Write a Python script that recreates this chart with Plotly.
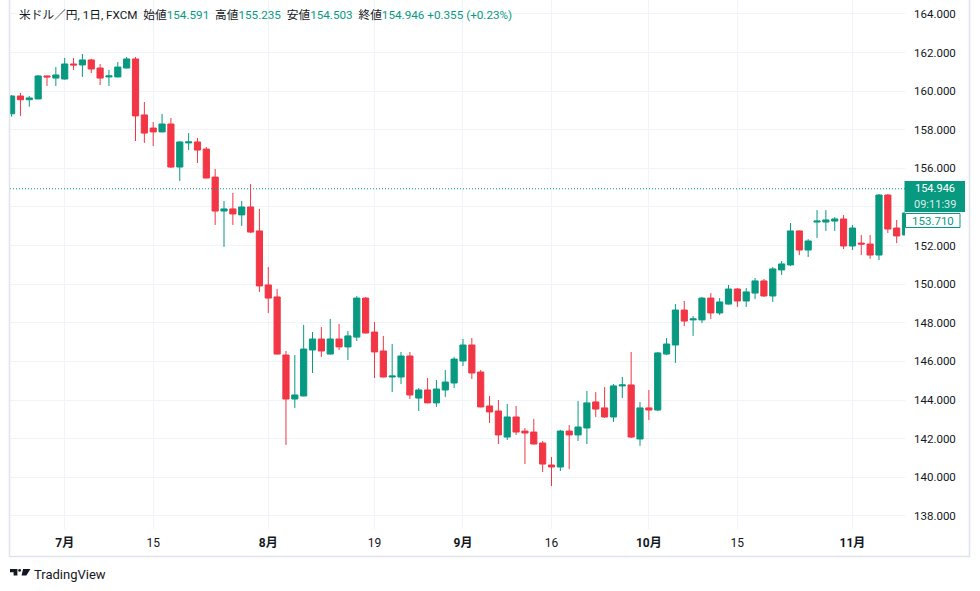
import pandas as pd
import plotly.graph_objects as go

# ---- data (USD/JPY daily, FXCM) ----
dates = [d.strftime("%Y-%m-%d") for d in pd.bdate_range("2024-06-21", "2024-11-11")]

open_ = [158.83, 159.75, 159.56, 159.60, 160.79, 160.68, 160.63, 161.41, 161.36, 161.62,
         161.20, 160.74, 160.74, 161.20, 161.67, 158.77, 158.09, 157.89, 158.30, 156.07,
         157.32, 157.37, 157.00, 155.55, 153.79, 153.90, 153.59, 154.00, 152.76, 149.96,
         149.34, 146.33, 144.05, 144.21, 146.59, 147.16, 146.38, 147.16, 146.75, 147.26,
         149.28, 147.52, 146.54, 145.19, 145.19, 146.28, 144.10, 144.52, 143.85, 144.52,
         144.88, 146.02, 146.85, 145.45, 143.69, 143.43, 142.08, 143.12, 142.39, 142.34,
         141.77, 140.63, 140.53, 142.39, 142.19, 142.55, 143.90, 143.59, 143.12, 144.73,
         144.78, 141.98, 143.59, 143.48, 146.38, 146.85, 148.66, 148.15, 148.15, 149.28,
         148.51, 148.97, 149.75, 149.13, 149.54, 150.17, 149.39, 150.74, 151.00, 152.76,
         151.77, 153.22, 153.22, 153.27, 153.38, 151.98, 152.13, 152.08, 151.51, 154.62,
         152.91, 152.55]
high = [159.80, 159.91, 159.75, 160.84, 160.80, 161.25, 161.72, 161.72, 161.93, 161.67,
        161.41, 161.10, 161.51, 161.77, 161.77, 159.44, 158.40, 158.82, 158.61, 157.40,
        157.83, 157.58, 157.11, 155.97, 154.31, 154.73, 154.31, 155.19, 153.90, 150.89,
        149.75, 146.54, 146.33, 147.89, 147.52, 147.78, 148.20, 147.94, 147.58, 149.39,
        149.34, 148.04, 147.32, 146.90, 146.49, 146.49, 144.62, 145.14, 145.04, 145.55,
        146.23, 147.16, 147.21, 145.55, 144.21, 144.00, 143.79, 143.69, 142.55, 143.02,
        141.88, 141.05, 142.45, 142.70, 143.95, 144.47, 144.41, 144.67, 144.83, 145.19,
        146.49, 143.90, 144.52, 146.49, 147.21, 148.97, 149.13, 148.35, 149.34, 149.54,
        149.28, 149.96, 149.80, 149.80, 150.32, 150.27, 150.89, 151.20, 153.17, 152.78,
        152.34, 153.84, 153.84, 153.48, 153.58, 153.07, 152.55, 152.55, 154.67, 154.67,
        153.33, 153.90]
low = [158.68, 158.72, 159.20, 159.58, 160.27, 160.27, 160.60, 161.10, 160.74, 160.94,
       160.32, 160.27, 160.72, 161.18, 157.42, 157.32, 157.16, 157.87, 156.02, 155.35,
       156.95, 156.28, 155.48, 153.07, 151.93, 153.07, 153.02, 152.65, 149.60, 148.51,
       146.36, 141.67, 143.59, 144.19, 145.40, 146.23, 146.36, 146.59, 146.07, 147.06,
       147.45, 145.14, 145.17, 144.41, 144.83, 144.05, 143.43, 143.83, 143.64, 144.16,
       144.62, 145.76, 145.09, 143.62, 142.81, 141.72, 141.93, 142.19, 140.68, 141.70,
       140.27, 139.54, 140.32, 140.42, 141.88, 141.72, 143.12, 143.07, 142.86, 144.10,
       142.03, 141.62, 142.96, 143.43, 146.33, 145.92, 147.83, 147.32, 147.99, 148.20,
       148.40, 148.95, 148.82, 148.82, 149.23, 149.34, 149.08, 150.48, 150.94, 151.51,
       151.41, 152.39, 152.76, 152.76, 151.82, 151.77, 151.51, 151.31, 151.25, 152.65,
       152.13, 152.40]
close = [159.75, 159.56, 159.65, 160.79, 160.74, 160.84, 161.41, 161.36, 161.62, 161.15,
         160.68, 160.79, 161.25, 161.67, 158.72, 157.83, 157.89, 158.30, 156.07, 157.37,
         157.37, 156.95, 155.50, 153.79, 153.90, 153.64, 154.00, 152.70, 149.91, 149.28,
         146.38, 144.05, 144.26, 146.64, 147.16, 146.54, 147.16, 146.75, 147.32, 149.28,
         147.47, 146.49, 145.19, 145.24, 146.28, 144.26, 144.52, 143.85, 144.57, 144.93,
         146.12, 146.85, 145.40, 143.64, 143.38, 142.19, 143.12, 142.34, 142.29, 141.72,
         140.68, 140.53, 142.39, 142.19, 142.60, 143.85, 143.53, 143.12, 144.73, 144.78,
         142.08, 143.59, 143.48, 146.44, 146.90, 148.66, 148.09, 148.20, 149.28, 148.51,
         149.08, 149.75, 149.13, 149.60, 150.17, 149.39, 150.79, 151.05, 152.76, 151.77,
         152.24, 153.27, 153.33, 153.38, 151.98, 152.91, 152.08, 151.51, 154.62, 152.86,
         152.50, 153.69]

tick_dates = ["2024-07-01", "2024-07-15", "2024-08-01", "2024-08-19", "2024-09-02",
              "2024-09-16", "2024-10-01", "2024-10-15", "2024-11-01"]
tick_text = ["<b>7月</b>", "15", "<b>8月</b>", "19", "<b>9月</b>", "16", "<b>10月</b>", "15", "<b>11月</b>"]
price_ticks = [138, 140, 142, 144, 146, 148, 150, 152, 154, 156, 158, 160, 162, 164]
# the 154.000 label sits under the last-price tag in the reference
price_tick_text = ["" if v == 154 else f"{v:.3f}" for v in price_ticks]

last_price = 154.946
countdown = "09:11:39"
prev_close_label = 153.710

UP = "#089981"
DOWN = "#F23645"
TXT = "#131722"
GRID = "#f0f3fa"

# ---- geometry helpers (pixel -> paper) ----
PL, PR, PT, PB = 10, 905, 0, 529
W, H = 980, 591


def px(x):
    return (x - PL) / (PR - PL)


def py(y):
    return (PB - y) / (PB - PT)


fig = go.Figure(go.Candlestick(
    x=dates, open=open_, high=high, low=low, close=close,
    increasing=dict(line=dict(color=UP, width=1), fillcolor=UP),
    decreasing=dict(line=dict(color=DOWN, width=1), fillcolor=DOWN),
    whiskerwidth=0, hoverinfo="skip",
))

shapes = []
# dotted last-price line
shapes.append(dict(type="line", xref="paper", yref="y", x0=0, x1=1,
                   y0=last_price, y1=last_price,
                   line=dict(color=UP, width=1, dash="1px,2px")))
# widget border
shapes.append(dict(type="rect", xref="paper", yref="paper",
                   x0=px(9.5), x1=px(969.5), y0=py(556.5), y1=py(-3),
                   line=dict(color="#e0e3eb", width=1.5), layer="above"))
# green last price box
shapes.append(dict(type="rect", xref="paper", yref="paper",
                   x0=px(904.5), x1=px(965), y0=py(212), y1=py(181),
                   line=dict(width=0), fillcolor=UP, layer="above"))
# prev close box
shapes.append(dict(type="rect", xref="paper", yref="paper",
                   x0=px(905.5), x1=px(960), y0=py(227.5), y1=py(213.5),
                   line=dict(color=UP, width=1), fillcolor="white", layer="above"))


# TradingView logo
def path(pts):
    return "M " + " L ".join(f"{px(a):.5f},{py(b):.5f}" for a, b in pts) + " Z"


shapes.append(dict(type="path", xref="paper", yref="paper",
                   path=path([(10, 569.0), (17.4, 569.0), (17.4, 575.5), (13.6, 575.5), (13.6, 572.3), (10, 572.3)]),
                   fillcolor=TXT, line=dict(width=0), layer="above"))
shapes.append(dict(type="circle", xref="paper", yref="paper",
                   x0=px(18.2), x1=px(21.0), y0=py(571.8), y1=py(569.0),
                   fillcolor=TXT, line=dict(width=0), layer="above"))
shapes.append(dict(type="path", xref="paper", yref="paper",
                   path=path([(23.0, 569.0), (30.4, 569.0), (26.4, 575.5), (21.6, 575.5)]),
                   fillcolor=TXT, line=dict(width=0), layer="above"))

FONT = "Roboto, 'Noto Sans CJK JP', sans-serif"

title_html = (
    f'<span style="color:{TXT}">米ドル／円, 1日, FXCM&nbsp;&nbsp;始値</span>'
    f'<span style="color:{UP}">154.591</span>&nbsp;&nbsp;'
    f'<span style="color:{TXT}">高値</span><span style="color:{UP}">155.235</span>&nbsp;&nbsp;'
    f'<span style="color:{TXT}">安値</span><span style="color:{UP}">154.503</span>&nbsp;&nbsp;'
    f'<span style="color:{TXT}">終値</span><span style="color:{UP}">154.946</span>&nbsp;'
    f'<span style="color:{UP}">+0.355 (+0.23%)</span>'
)

annotations = [
    dict(text=title_html, xref="paper", yref="paper", x=px(17), y=py(15),
         xanchor="left", yanchor="middle", showarrow=False,
         font=dict(family=FONT, size=11.7, color=TXT)),
    dict(text=f"{last_price:.3f}", xref="paper", yref="paper", x=px(934.5), y=py(189),
         xanchor="center", yanchor="middle", showarrow=False, borderpad=0,
         font=dict(family=FONT, size=11, color="white")),
    dict(text=countdown, xref="paper", yref="paper", x=px(934.5), y=py(204),
         xanchor="center", yanchor="middle", showarrow=False, borderpad=0,
         font=dict(family=FONT, size=11, color="rgba(255,255,255,0.85)")),
    dict(text=f"{prev_close_label:.3f}", xref="paper", yref="paper", x=px(932.5), y=py(221),
         xanchor="center", yanchor="middle", showarrow=False, borderpad=0,
         font=dict(family=FONT, size=11.5, color=UP)),
    dict(text="TradingView", xref="paper", yref="paper", x=px(32), y=py(574),
         xanchor="left", yanchor="middle", showarrow=False,
         font=dict(family=FONT, size=13, color=TXT)),
]

fig.update_layout(
    width=W, height=H,
    margin=dict(l=PL, r=W - PR, t=PT, b=H - PB, pad=0),
    paper_bgcolor="white", plot_bgcolor="white",
    showlegend=False,
    boxgap=0.3, boxgroupgap=0,
    shapes=shapes, annotations=annotations,
    font=dict(family=FONT, size=12, color=TXT),
    xaxis=dict(type="category", range=[-0.18, 100.94],
               tickmode="array", tickvals=tick_dates, ticktext=tick_text,
               showgrid=True, gridcolor=GRID, gridwidth=1,
               zeroline=False, showline=False, ticks="",
               rangeslider=dict(visible=False),
               tickfont=dict(family=FONT, size=12, color=TXT),
               ticklabelstandoff=5),
    yaxis=dict(side="right", range=[137.316, 164.725],
               tickmode="array", tickvals=price_ticks, ticktext=price_tick_text,
               showgrid=True, gridcolor=GRID, gridwidth=1,
               zeroline=False, showline=False, ticks="",
               tickfont=dict(family=FONT, size=11.5, color=TXT),
               ticklabelstandoff=8),
)

fig.write_html("out.html", config={"displayModeBar": False},
               post_script="document.body.style.margin='0px';")
